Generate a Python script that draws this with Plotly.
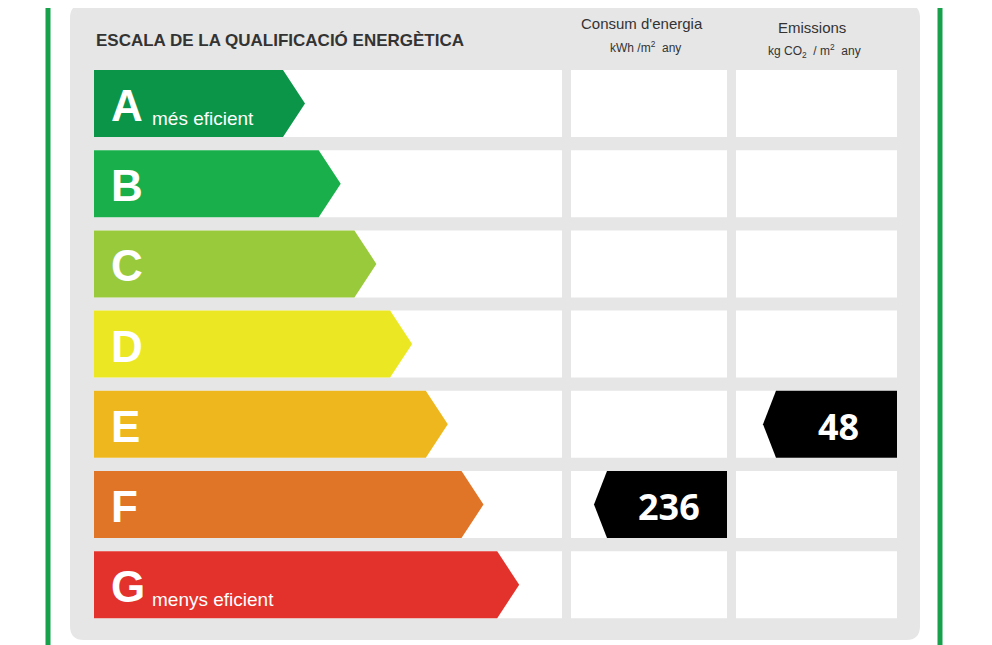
import plotly.graph_objects as go

# Rating scale
ratings = ["A", "B", "C", "D", "E", "F", "G"]
colors = ["#0b9548", "#19b04b", "#99ca3c", "#ebe823", "#eeb71e", "#e07427", "#e3322b"]
subtitles = {"A": "més eficient", "G": "menys eficient"}

# Result values
consum_rating, consum_value = "F", 236
emissions_rating, emissions_value = "E", 48

FONT = "Liberation Sans, Arial, sans-serif"

fig = go.Figure()
shapes = []
annotations = []

# green side borders
for gx in (48, 940):
    shapes.append(dict(type="line", x0=gx, x1=gx, y0=-10, y1=670,
                       line=dict(color="#17a14b", width=5)))

# grey panel with rounded corners
r = 14
x0, x1, y0, y1 = 70, 920, 4, 640
shapes.append(dict(type="path", line=dict(width=0), fillcolor="#e6e6e6",
                   path=f"M{x0+r},{y0} L{x1-r},{y0} Q{x1},{y0} {x1},{y0+r} L{x1},{y1-r} "
                        f"Q{x1},{y1} {x1-r},{y1} L{x0+r},{y1} Q{x0},{y1} {x0},{y1-r} "
                        f"L{x0},{y0+r} Q{x0},{y0} {x0+r},{y0} Z"))

cols = [(94, 562), (571, 727), (736, 897)]
row_top, row_h, row_step = 70, 67, 80.2

for i, (rt, col) in enumerate(zip(ratings, colors)):
    ry0 = row_top + i * row_step
    ry1 = ry0 + row_h
    ym = (ry0 + ry1) / 2
    for cx0, cx1 in cols:
        shapes.append(dict(type="rect", x0=cx0, x1=cx1, y0=ry0, y1=ry1,
                           fillcolor="white", line=dict(width=0)))
    tip = 305 + 35.7 * i
    shapes.append(dict(type="path", fillcolor=col, line=dict(width=0),
                       path=f"M94,{ry0} L{tip-22},{ry0} L{tip},{ym} L{tip-22},{ry1} L94,{ry1} Z"))
    annotations.append(dict(x=109, y=ym + 2, text=f"<b>{rt}</b>", showarrow=False,
                            xanchor="left", yanchor="middle",
                            font=dict(family=FONT, size=44, color="white")))
    if rt in subtitles:
        annotations.append(dict(x=150, y=ym + 15, text=subtitles[rt], showarrow=False,
                                xanchor="left", yanchor="middle",
                                font=dict(family=FONT, size=19, color="white")))

def indicator(rating, value, cx0, cx1, offset):
    i = ratings.index(rating)
    ry0 = row_top + i * row_step
    ry1 = ry0 + row_h
    ym = (ry0 + ry1) / 2
    tip = cx0 + offset
    shapes.append(dict(type="path", fillcolor="black", line=dict(width=0),
                       path=f"M{tip},{ym} L{tip+13},{ry0} L{cx1},{ry0} L{cx1},{ry1} L{tip+13},{ry1} Z"))
    annotations.append(dict(x=(tip + 13 + cx1) / 2 + 2, y=ym + 2, text=f"<b>{value}</b>",
                            showarrow=False, xanchor="center", yanchor="middle",
                            font=dict(family="Open Sans", size=36, color="white")))

indicator(consum_rating, consum_value, 571, 727, 23)
indicator(emissions_rating, emissions_value, 736, 897, 27)

annotations += [
    dict(x=94, y=40, text="<b>ESCALA DE LA QUALIFICACIÓ ENERGÈTICA</b>", showarrow=False,
         xanchor="left", yanchor="middle",
         font=dict(family=FONT, size=17, color="#333333")),
    dict(x=642, y=23, text="Consum d'energia", showarrow=False,
         font=dict(family=FONT, size=15, color="#333333")),
    dict(x=645, y=47, text="kWh /m<sup>2</sup>  any", showarrow=False,
         font=dict(family=FONT, size=12, color="#333333")),
    dict(x=812, y=27, text="Emissions", showarrow=False,
         font=dict(family=FONT, size=15, color="#333333")),
    dict(x=814, y=51, text="kg CO<sub>2</sub>  / m<sup>2</sup>  any", showarrow=False,
         font=dict(family=FONT, size=12, color="#333333")),
]

fig.update_layout(width=992, height=645, margin=dict(l=0, r=0, t=0, b=0),
                  paper_bgcolor="white", plot_bgcolor="white",
                  shapes=shapes, annotations=annotations, showlegend=False)
# page body has an 8px margin; shift the ranges to compensate
fig.update_xaxes(range=[8, 1000], visible=False, fixedrange=True)
fig.update_yaxes(range=[653, 8], visible=False, fixedrange=True)
fig.write_html("out.html")
